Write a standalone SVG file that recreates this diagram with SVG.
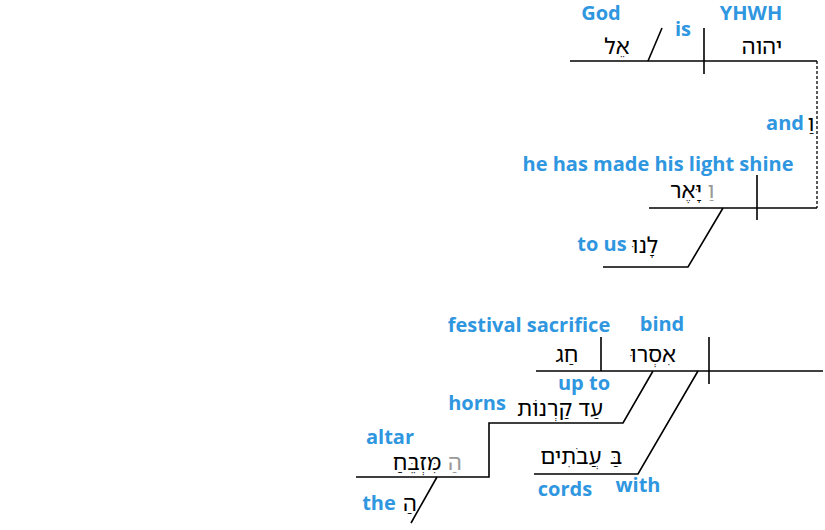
<svg xmlns="http://www.w3.org/2000/svg" width="825" height="530" viewBox="0 0 825 530">
<style>
.l{font-family:"Open Sans","Noto Sans",sans-serif;font-weight:bold;font-size:20px;fill:#2f96e0;text-anchor:middle}
.h{font-family:"Noto Sans Hebrew","DejaVu Sans","Noto Sans",sans-serif;font-size:22px;fill:#000;text-anchor:middle}
.g{fill:#999}
.ln{stroke:#000;stroke-width:1.6;fill:none}
.d{stroke:#000;stroke-width:1.3;fill:none;stroke-dasharray:3,2}
</style>
<rect width="825" height="530" fill="#fff"/>
<g id="connectors">
<path class="ln" d="M570,61 H817"/>
<path class="ln" d="M648,61 L662,28"/>
<path class="ln" d="M704,28 V74"/>
<path class="d" d="M817,61 V208"/>
<path class="ln" d="M649,208 H817"/>
<path class="ln" d="M757,175 V220"/>
<path class="ln" d="M723,208 L688,267 H603"/>
<path class="ln" d="M536,371 H823"/>
<path class="ln" d="M601,337 V371"/>
<path class="ln" d="M709,337 V384"/>
<path class="ln" d="M653,371 L623,423 H489 V477 H356"/>
<path class="ln" d="M437,477 L411,523"/>
<path class="ln" d="M698,371 L638,474 H534"/>
</g>
<g id="node-god"><text class="l" x="601" y="20">God</text><text class="h" x="617" y="54">אֵל</text></g>
<g id="node-is"><text class="l" x="683" y="36">is</text></g>
<g id="node-yhwh"><text class="l" x="751" y="20">YHWH</text><text class="h" x="762" y="54">יהוה</text></g>
<g id="node-and"><text class="l" x="785" y="130">and</text><text class="h" x="811" y="131">וַ</text></g>
<g id="node-shine"><text class="l" x="658" y="171">he has made his light shine</text><text class="h" x="686" y="198">יָּאֶר</text><text class="h g" x="711" y="198">וַ</text></g>
<g id="node-tous"><text class="l" x="602" y="251">to us</text><text class="h" x="645" y="253">לָנוּ</text></g>
<g id="node-festival"><text class="l" x="529" y="332">festival sacrifice</text><text class="h" x="567" y="362">חַג</text></g>
<g id="node-bind"><text class="l" x="662" y="331">bind</text><text class="h" x="653" y="362">אִסְרוּ</text></g>
<g id="node-upto"><text class="l" x="584" y="390">up to</text></g>
<g id="node-horns"><text class="l" x="477" y="410">horns</text><text class="h" x="560" y="416">עַד קַרְנוֹת</text></g>
<g id="node-altar"><text class="l" x="390" y="444">altar</text><text class="h" x="417" y="470">מִּזְבֵּחַ</text><text class="h g" x="455" y="470">הַ</text></g>
<g id="node-the"><text class="l" x="379" y="510">the</text><text class="h" x="410" y="511">הַ</text></g>
<g id="node-cords"><text class="l" x="565" y="496">cords</text><text class="h" x="571" y="464">עֲבֹתִים</text><text class="h" x="616" y="464">בַּ</text></g>
<g id="node-with"><text class="l" x="638" y="492">with</text></g>
</svg>
